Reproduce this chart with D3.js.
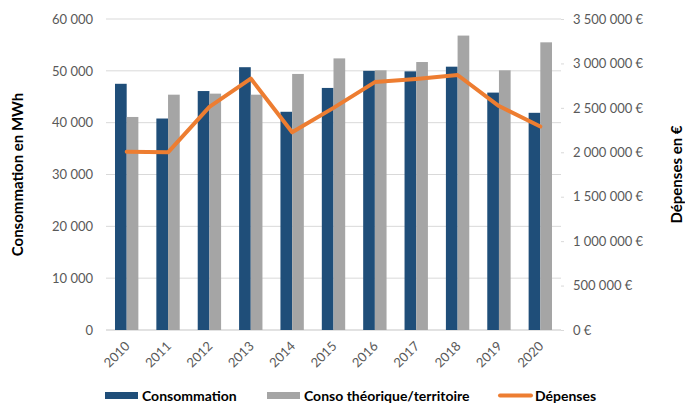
<!doctype html>
<html lang="fr">
<head>
<meta charset="utf-8">
<script src="https://d3js.org/d3.v7.min.js"></script>
<style>
  body { margin: 0; background: #fff; }
  text { font-family: Lato, "Open Sans", sans-serif; }
</style>
</head>
<body>
<svg id="chart" width="685" height="405"></svg>
<script>
// data
const years = ["2010","2011","2012","2013","2014","2015","2016","2017","2018","2019","2020"];
const consommation = [47500, 40800, 46100, 50700, 42100, 46700, 50000, 49900, 50800, 45800, 41900];
const consoTheorique = [41100, 45400, 45600, 45400, 49400, 52400, 50100, 51700, 56800, 50100, 55500];
const depenses = [2005000, 2000000, 2510000, 2830000, 2225000, 2500000, 2790000, 2825000, 2870000, 2520000, 2290000];
const leftTicks = [0, 10000, 20000, 30000, 40000, 50000, 60000];
const rightTicks = [0, 500000, 1000000, 1500000, 2000000, 2500000, 3000000, 3500000];

const colDark = "#1F4E79", colGray = "#A5A5A5", colOrange = "#ED7D31";
const tickColor = "#595959", gridColor = "#D9D9D9";

const margin = { top: 19, right: 124, bottom: 75, left: 106 };
const W = 685, H = 405;
const innerW = W - margin.left - margin.right;
const innerH = H - margin.top - margin.bottom;

const fr = d3.formatLocale({ decimal: ",", thousands: "\u202f", grouping: [3], currency: ["", "\u00a0€"] });
const fmtNum = fr.format(",.0f");
const fmtEur = fr.format("$,.0f");

const svg = d3.select("#chart");
const g = svg.append("g").attr("transform", `translate(${margin.left},${margin.top})`);

const x = d3.scaleBand().domain(years).range([0, innerW]).paddingInner(0.435).paddingOuter(0.2175);
const xs = d3.scaleBand().domain(["c", "t"]).range([0, x.bandwidth()]);
const y = d3.scaleLinear().domain([0, 60000]).range([innerH, 0]);
const y2 = d3.scaleLinear().domain([0, 3500000]).range([innerH, 0]);

// gridlines
g.append("g").selectAll("line").data(leftTicks).join("line")
  .attr("x1", 0).attr("x2", innerW)
  .attr("y1", d => y(d)).attr("y2", d => y(d))
  .attr("stroke", gridColor).attr("stroke-width", d => d === 0 ? 1.5 : 1);

// left axis
const ya = g.append("g").call(d3.axisLeft(y).tickValues(leftTicks).tickSize(0).tickPadding(13).tickFormat(fmtNum));
ya.select(".domain").remove();
ya.selectAll("text").attr("fill", tickColor).style("font-size", "13px").style("font-family", "Lato, sans-serif");

// right axis
const ya2 = g.append("g").attr("transform", `translate(${innerW},0)`)
  .call(d3.axisRight(y2).tickValues(rightTicks).tickSize(3).tickPadding(9).tickFormat(fmtEur));
ya2.select(".domain").remove();
ya2.selectAll("line").attr("stroke", gridColor);
ya2.selectAll("text").attr("fill", tickColor).style("font-size", "13px").style("font-family", "Lato, sans-serif");

// bars
const groups = g.append("g").selectAll("g").data(years).join("g")
  .attr("transform", d => `translate(${x(d)},0)`);
groups.append("rect")
  .attr("x", xs("c")).attr("width", xs.bandwidth())
  .attr("y", (d, i) => y(consommation[i])).attr("height", (d, i) => innerH - y(consommation[i]))
  .attr("fill", colDark);
groups.append("rect")
  .attr("x", xs("t")).attr("width", xs.bandwidth())
  .attr("y", (d, i) => y(consoTheorique[i])).attr("height", (d, i) => innerH - y(consoTheorique[i]))
  .attr("fill", colGray);

// line
const line = d3.line().x((d, i) => x(years[i]) + x.bandwidth() / 2).y(d => y2(d));
g.append("path").datum(depenses)
  .attr("d", line).attr("fill", "none")
  .attr("stroke", colOrange).attr("stroke-width", 4)
  .attr("stroke-linejoin", "round").attr("stroke-linecap", "round");

// x labels
g.append("g").selectAll("text").data(years).join("text")
  .attr("transform", d => `translate(${x(d) + x.bandwidth() / 2 + 4},${innerH + 17}) rotate(-45)`)
  .attr("text-anchor", "end")
  .attr("fill", tickColor).style("font-size", "13px")
  .text(d => d);

// axis titles
svg.append("text")
  .attr("transform", `translate(23,${margin.top + innerH / 2}) rotate(-90)`)
  .attr("text-anchor", "middle").style("font-size", "15px").style("font-weight", "bold")
  .attr("fill", "#000").text("Consommation en MWh");
svg.append("text")
  .attr("transform", `translate(682,${margin.top + innerH / 2}) rotate(-90)`)
  .attr("text-anchor", "middle").style("font-size", "15px").style("font-weight", "bold")
  .attr("fill", "#000").text("Dépenses en €");

// legend
const legend = [
  { label: "Consommation", color: colDark, type: "rect", x: 105 },
  { label: "Conso théorique/territoire", color: colGray, type: "rect", x: 267 },
  { label: "Dépenses", color: colOrange, type: "line", x: 498 }
];
const lg = svg.append("g").selectAll("g").data(legend).join("g")
  .attr("transform", d => `translate(${d.x},0)`);
lg.filter(d => d.type === "rect").append("rect")
  .attr("x", 0).attr("y", 392).attr("width", 33).attr("height", 7).attr("fill", d => d.color);
lg.filter(d => d.type === "line").append("line")
  .attr("x1", 2).attr("x2", 33).attr("y1", 395.5).attr("y2", 395.5)
  .attr("stroke", d => d.color).attr("stroke-width", 4).attr("stroke-linecap", "round");
lg.append("text")
  .attr("x", 37).attr("y", 401)
  .style("font-size", "14px").style("font-weight", "bold").attr("fill", "#000")
  .text(d => d.label);
</script>
</body>
</html>
